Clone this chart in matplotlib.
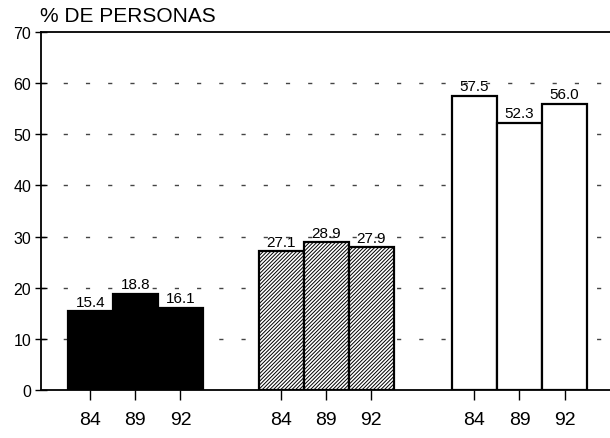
import matplotlib
matplotlib.use("Agg")
import matplotlib.pyplot as plt
import numpy as np

years = ["84", "89", "92"]
group_a = [15.4, 18.8, 16.1]
group_b = [27.1, 28.9, 27.9]
group_c = [57.5, 52.3, 56.0]
yticks = [0, 10, 20, 30, 40, 50, 60, 70]

plt.rcParams['font.family'] = ['Liberation Sans', 'DejaVu Sans']
plt.rcParams['hatch.linewidth'] = 0.7

fig = plt.figure(figsize=(6.10, 4.39), dpi=100)
ax = fig.add_axes([0.067, 0.109, 0.933, 0.816])

group_starts = [1.1, 5.34, 9.63]
styles = [dict(color='black', edgecolor='black', hatch=None),
          dict(color='white', edgecolor='black', hatch='/////////'),
          dict(color='white', edgecolor='black', hatch=None)]
groups = [group_a, group_b, group_c]

xt, xl = [], []
for start, vals, st in zip(group_starts, groups, styles):
    xs = start + np.arange(len(vals))
    ax.bar(xs, vals, width=1.0, facecolor=st['color'], edgecolor=st['edgecolor'],
           hatch=st['hatch'], linewidth=1.6, zorder=3)
    for x, v in zip(xs, vals):
        ax.text(x, v + 0.5, f"{v:.1f}", ha='center', va='bottom', fontsize=11, zorder=4)
    xt.extend(xs)
    xl.extend(years)

ax.set_xlim(0, 12.64)
ax.set_ylim(0, 70)
ax.set_yticks(yticks)
ax.set_yticklabels([str(t) for t in yticks], fontsize=11.5)
ax.set_xticks(xt)
ax.set_xticklabels(xl, fontsize=14)
ax.tick_params(axis='y', direction='inout', length=8, width=1, pad=3)
ax.tick_params(axis='x', direction='out', length=7, width=1, pad=8)

for y in yticks[1:-1]:
    ax.axhline(y, color='#444444', linestyle=(0, (3, 13)), linewidth=1.0, zorder=1)

ax.spines['right'].set_visible(False)
for s in ['left', 'top', 'bottom']:
    ax.spines[s].set_linewidth(1.3)

fig.text(0.066, 0.962, "% DE PERSONAS", fontsize=15, ha='left', va='center')

fig.savefig("out.png", dpi=100)
